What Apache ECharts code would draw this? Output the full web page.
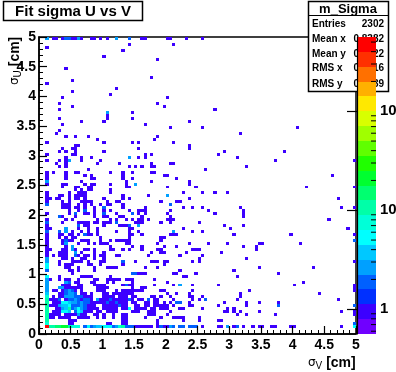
<!DOCTYPE html>
<html><head><meta charset="utf-8">
<style>html,body{margin:0;padding:0;background:#fff}#c{width:396px;height:372px}</style>
<script src="https://cdn.jsdelivr.net/npm/echarts@6/dist/echarts.min.js"></script>
</head><body><div id="c"></div>
<script>
const binWidth = 0.05;
const statLabels = ['Entries','Mean x','Mean y','RMS x','RMS y'];
const statValues = ['2302','0.8382','0.9122','0.7716','0.9839'];
const contourLevels = [0.5623,0.794,1.122,1.585,2.239,3.162,4.467,6.31,8.913,12.59,17.78,25.12,35.48,50.12,70.79,100,141.3,199.5,281.8,398.1,562.3];
const paletteColors = ['#7000ff','#3c00ff','#0030ff','#0060ff','#00a0ff','#00c8ff','#00ffff','#00ffd8','#00ffa8','#00ff70','#00ff30','#20ff00','#60ff00','#a0ff00','#d8ff00','#ffe800','#ffb000','#ff7000','#ff3000','#ff0000'];
const colorbarMinorTicks = [0.6,0.7,0.8,0.9,2,3,4,5,6,7,8,9,20,30,40,50,60,70,80,90,200,300,400,500];
// [row index along sigma U, [column indices along sigma V]] : bins holding a single entry
const singleEntryRows = [
[99,[4,5,7,10,11,13,16,17,19,21,32,33,40,41,46,51]],[97,[28,42]],[96,[2]],[95,[26]],[93,[20]],[92,[37]],[89,[8]],[86,[35]],[85,[10]],[84,[2]],[82,[24]],[81,[10]],[80,[22]],[79,[7,40]],[77,[6,37]],[76,[10,39]],[75,[6,55]],[74,[29]],[73,[21]],[72,[6,21,29]],[71,[13,20,47]],[70,[7,33]],[69,[41,51,81]],[68,[6]],[67,[5,63]],[66,[8,11,15,37]],[65,[18,36]],[64,[2,20,29,31,42]],[63,[11,12,47]],[62,[7,10,11,31,47]],[61,[6,8,11,20,58,77]],[60,[2,10,11,33,35,56]],[59,[8,13,16,31,33,62]],[58,[2,6,8,13,19,74,99]],[57,[5,8,18,25,35,41,42]],[56,[6,8,28,30,32,35,36,65]],[55,[15,52]],[54,[2,4,8,11,12,22,26,29,35,36]],[53,[2,8,14,16,26,39,40,92]],[52,[2,8,16,17,26,29,43]],[51,[13,27,35,47]],[50,[2,7,8,14,16,17,22,27,47]],
[49,[7,11,12,15,16,27,28,40,49,84,99]],[48,[11,13,15,16,22]],[47,[2,9,12,13,14,22,45,51,55,59]],[46,[2,6,7,9,11,12,13,14,26,34]],[45,[2,3,5,6,9,11,12,14,20,26,28,47,94]],[44,[2,7,9,13,14,15,16,21,24,25,38,43,44]],[43,[7,8,9,12,14,16,19,21,22,26]],[42,[7,8,9,11,12,14,17,26,33,45,48,51,63,95,99]],[41,[9,12,17,20,22,28,31,32,33,41,53,64]],[40,[2,9,14,15,17,24,31,33,40,55,64]],[39,[7,11,17,20,21,25,26,32,41,64]],[38,[2,8,10,18,22,24,27,29,31,32,34,40,41,42,91]],[37,[7,12,13,14,15,17,18,20,21,22,30,31,32,38,41,50]],[36,[2,14,15,20,25,26,27,58,64]],[35,[2,3,12,15,18,28,29,45,60,97]],[34,[10,13,15,18,24,28,31,48,51]],[33,[2,6,7,9,10,12,15,16,18,28,29,32,41,42,43,61,79,99]],[32,[2,6,8,10,11,19,28,38,39]],[31,[2,7,9,10,13,14,15,19,22,24,25,26,27,28,38]],[30,[2,7,12,15,17,19,20,21,27,28,37,47,53,59,69,70,82]],[29,[2,8,22,29,32,39,43,64,68]],[28,[2,3,7,8,11,14,15,17,22,23,26,28,32,37,38,48,49,50,68]],[27,[2,6,7,8,13,17,20,35,38,39,46,57]],[26,[2,4,6,7,8,12,14,15,17,19,20,24,25,34,44,51]],[25,[7,8,10,13,14,17,20,50,65]],
[24,[6,10,11,12,13,15,19,20,30,35,36,37,39,40,48,50,99]],[23,[6,8,9,10,15,16,19,26,39]],[22,[8,9,12,17,21,22,23,24,33,37,69,86]],[21,[9,10,12,17,44,61]],[20,[10,31,32,33,42,43,49,75]],[19,[6,13,14,15,16,22,45,46,62]],[18,[3,6,8,9,12,17,18,21,22,23,24,25,27,28,29,36]],[17,[11,12,16,17,21,23,29,40,83]],[16,[7,8,9,12,13,17,18,19,20,26,28,29,36,42,48,56,80,99]],[15,[7,8,9,10,11,12,13,18,19,20,21,29,32,33,99]],[14,[4,5,7,8,9,10,11,13,18,19,20,24,26,27,28,29,30,31,32,38,39,48,66,99]],[13,[6,7,8,9,10,11,13,14,16,20,21,23,24,25,26,27,28,29,40,43,47,63,88]],[12,[4,6,7,8,9,10,11,12,14,15,16,20,21,22,23,25,26,27,29,30,35,36,38,41,47,48,51,63]],[11,[3,4,5,8,13,14,15,16,19,20,21,22,23,24,25,26,27,28,29,31,32,36,37,42,48,50,62,94]],[10,[4,5,6,10,11,12,13,14,15,16,17,18,19,20,21,22,23,24,25,26,27,29,30,33,34,36,37,39,41,47,58,65,69,75]],[9,[3,4,5,10,11,12,13,14,15,16,17,20,21,22,23,24,25,26,27,30,31,33,34,36,37,38,39,40,42,47,48,56,65]],[8,[5,6,13,14,15,16,17,18,20,21,22,23,24,26,27,30,31,32,33,35,36,38,39,40,44,45,51,59,61]],[7,[4,5,6,14,15,16,18,19,21,22,23,24,29,30,31,34,35,36,41,58,59,61,63,69,95,99]],[6,[3,4,5,6,8,9,10,11,13,14,17,18,20,23,26,27,34,35,36,40,62,65,74,99]],[5,[3,4,6,7,8,9,12,13,14,15,18,20,23,26,27,33,38,42,43,44,45,50]],[4,[9,10,11,26,27,37,45,50,56,57]],[3,[9,10,21,22,26,27,37]]
];
// [column, row, entries] : bins holding more than one entry
const multiEntryBins = [
[2,99,3],[8,99,2],[9,99,2],[12,99,3],[24,99,3],[28,99,2],[21,74,3],[28,59,3],[9,58,3],[2,51,3],[30,50,3],[40,46,3],[2,43,2],[41,43,2],[20,42,2],[14,41,2],[11,40,2],[20,40,2],[29,40,2],[6,39,2],[2,37,2],[24,37,2],[12,36,2],[28,36,2],[31,36,3],[8,35,3],[2,34,2],[6,34,2],[8,34,3],[42,34,3],[14,33,2],[8,31,2],[99,31,2],[8,30,3],[10,29,3],[10,28,3],[11,27,3],[11,26,2],[2,25,3],[2,24,3],[26,24,2],[2,23,5],[2,22,6],[2,21,2],[29,20,2],[30,20,2],[2,19,5],[2,18,3],[2,17,3],[8,17,3],[9,17,2],[2,16,3],[27,16,2],[44,16,3],[2,15,3],[6,15,3],[7,15,3],[2,14,3],[2,13,4],[2,12,7],[2,11,10],[6,11,2],[9,11,2],[10,11,2],[11,11,3],[12,11,2],[18,11,3],[34,11,2],[52,11,2],[2,10,10],[7,10,5],[8,10,5],[9,10,4],[43,10,2],[44,10,2],[2,9,12],[6,9,3],[7,9,4],[8,9,4],[9,9,5],[75,9,2],[99,9,2],[2,8,12],[7,8,3],[8,8,4],[9,8,10],[12,8,5],[28,8,5],[2,7,12],[7,7,5],[8,7,5],[9,7,4],[11,7,2],[12,7,5],[13,7,4],[2,6,10],[12,6,3],[2,5,10],[2,4,10],[2,3,7],[99,3,2],
[8,14,2],[9,14,3],[10,14,2],[8,13,2],[9,13,3],[10,13,3],[11,13,2],[8,12,3],[9,12,3],[10,12,3],[11,12,2],[12,12,2],[13,12,2],[14,11,2],[15,11,2],[13,10,3],[14,10,2],[15,10,2],[10,10,3],[11,10,3],[12,10,2],[10,9,2],[11,9,2],[12,9,2],[13,9,3],[14,9,2],[13,8,3],[14,8,2],[10,8,2],[11,8,3],[21,10,2],[22,11,2],[24,10,2],[25,9,2],[28,11,2]
];
// bottom populated row: [column, entries]
const lowRowBins = [[2,500],[3,10],[4,10],[5,15],[6,15],[7,20],[8,20],[9,12],[10,8],[11,8],[12,7],[14,2],[15,5],[16,2],[17,3],[18,4],[19,4],[20,5],[21,6],[22,6],[23,2],[24,3],[25,8],[26,9],[27,2],[28,2],[29,2],[30,1],[31,1],[32,1],[33,1],[34,1],[35,1],[37,1],[38,2],[39,1],[40,1],[41,3],[42,2],[44,2],[45,2],[47,2],[48,2],[49,2],[51,1],[56,1],[57,1],[59,3],[61,1],[62,2],[64,1],[67,1],[69,1],[70,1],[73,1],[74,1],[79,1],[80,1],[95,1],[99,6]];
const lowRowIndex = 2;

const cells = [];
singleEntryRows.forEach(([r,cols]) => cols.forEach(c => cells.push([c*binWidth, r*binWidth, 1])));
multiEntryBins.forEach(([c,r,n]) => cells.push([c*binWidth, r*binWidth, n]));
lowRowBins.forEach(([c,n]) => cells.push([c*binWidth, lowRowIndex*binWidth, n]));
function colorOf(n){
  for(let i=0;i<paletteColors.length;i++) if(n<contourLevels[i+1]) return paletteColors[i];
  return paletteColors[paletteColors.length-1];
}
const barData = paletteColors.map((c,i)=>[contourLevels[i],contourLevels[i+1],i]);
const font='"Liberation Sans",Arial,sans-serif';
const txt=(x,y,t,align,size,extra)=>({type:'text',z:1,x,y,style:Object.assign({text:t,x:0,y:0,align,verticalAlign:'middle',font:`bold ${size}px ${font}`,fill:'#000'},extra||{})});
const chart=echarts.init(document.getElementById('c'),null,{renderer:'canvas'});
const axisBase={type:'value',min:0,max:5,interval:0.5,splitLine:{show:false},z:3,
  axisLine:{show:true,onZero:false,lineStyle:{color:'#000',width:1.5}},
  axisTick:{show:true,inside:true,length:8,lineStyle:{color:'#000',width:1.2}},
  minorTick:{show:true,splitNumber:5,length:4,lineStyle:{color:'#000',width:1}},
  minorSplitLine:{show:false},
  axisLabel:{color:'#000',fontFamily:font,fontWeight:'bold',fontSize:14,formatter:v=>String(v),showMinLabel:true,showMaxLabel:true,hideOverlap:false}};
const rich={s:{fontFamily:'"DejaVu Sans"',fontSize:12,fontWeight:'normal',fill:'#000'},
  sub:{fontFamily:font,fontSize:10,fontWeight:'normal',fill:'#000',padding:[7,0,0,0]},
  b:{fontFamily:font,fontSize:14,fontWeight:'bold',fill:'#000'}};
const rectBin=(a,b,fill)=>{
  const x0=Math.round(a[0]),x1=Math.round(b[0]),y0=Math.round(b[1]),y1=Math.round(a[1]);
  return {type:'rect',shape:{x:x0,y:y0,width:x1-x0,height:y1-y0},style:{fill}};
};
chart.setOption({
  animation:false,backgroundColor:'#fff',
  grid:[{left:39,top:37,width:317,height:297,show:true,borderColor:'#000',borderWidth:1.5,backgroundColor:'transparent',z:0,outerBoundsMode:'none'},
        {left:357,top:37,width:19,height:297,show:false,outerBoundsMode:'none'}],
  xAxis:[Object.assign({},axisBase,{gridIndex:0,position:'bottom',
     axisLabel:Object.assign({},axisBase.axisLabel,{margin:4})}),
    {gridIndex:1,type:'value',min:0,max:1,show:false}],
  yAxis:[Object.assign({},axisBase,{gridIndex:0,position:'left',
     axisLabel:Object.assign({},axisBase.axisLabel,{margin:3})}),
    {gridIndex:1,type:'log',logBase:10,min:contourLevels[0],max:contourLevels[20],position:'right',z:4,
     splitLine:{show:false},
     axisLine:{show:true,lineStyle:{color:'#000',width:1.2}},
     axisTick:{show:true,inside:true,length:10,lineStyle:{color:'#000',width:1.2}},
     minorTick:{show:false},
     axisLabel:{margin:4,color:'#000',fontFamily:font,fontWeight:'bold',fontSize:15,
       showMinLabel:false,showMaxLabel:false,
       formatter:v=>Math.abs(v-100)<1?'10{p|2}':(Math.abs(v-10)<.1?'10':(Math.abs(v-1)<.01?'1':'')),
       rich:{p:{fontSize:10,fontWeight:'bold',fontFamily:font,verticalAlign:'top',padding:[0,0,8,0]}}}}],
  graphic:{elements:[
    {type:'rect',z:1,shape:{x:3.5,y:1.5,width:139,height:19},style:{fill:'#fff',stroke:'#000',lineWidth:1.5}},
    txt(73,12,'Fit sigma U vs V','center',15),
    {type:'rect',z:1,shape:{x:308.5,y:1.5,width:80,height:90},style:{fill:'#fff',stroke:'#000',lineWidth:1.5}},
    {type:'line',z:1,shape:{x1:308.5,y1:15.5,x2:388.5,y2:15.5},style:{stroke:'#000',lineWidth:1}},
    txt(348,9.5,'m_Sigma','center',13),
    ...statLabels.map((l,i)=>txt(312,[24,39,54,68,84][i],l,'left',10)),
    ...statValues.map((l,i)=>txt(384,[24,39,54,68,84][i],l,'right',10)),
    {type:'text',z:1,x:308,y:363,style:{text:'{s|σ}{sub|V}{b| [cm]}',rich,verticalAlign:'middle',align:'left'}},
    {type:'text',z:1,x:15,y:85,rotation:Math.PI/2,style:{text:'{s|σ}{sub|U}{b| [cm]}',rich,verticalAlign:'middle',align:'left'}}
  ]},
  series:[
   {type:'custom',xAxisIndex:0,yAxisIndex:0,z:2,clip:true,data:cells,encode:{x:0,y:1},
    renderItem:(p,api)=>rectBin(api.coord([api.value(0),api.value(1)]),api.coord([api.value(0)+binWidth,api.value(1)+binWidth]),colorOf(api.value(2)))},
   {type:'custom',xAxisIndex:1,yAxisIndex:1,z:2,data:barData,encode:{y:[0,1]},
    renderItem:(p,api)=>rectBin(api.coord([0,api.value(0)]),api.coord([1,api.value(1)]),paletteColors[api.value(2)])},
   {type:'custom',xAxisIndex:1,yAxisIndex:1,z:5,clip:false,data:colorbarMinorTicks.map(v=>[v]),encode:{y:0},
    renderItem:(p,api)=>{
      const a=api.coord([1,api.value(0)]);
      return {type:'line',shape:{x1:a[0],y1:a[1],x2:a[0]-5,y2:a[1]},style:{stroke:'#000',lineWidth:1}};
    }}
  ]
});
</script></body></html>
